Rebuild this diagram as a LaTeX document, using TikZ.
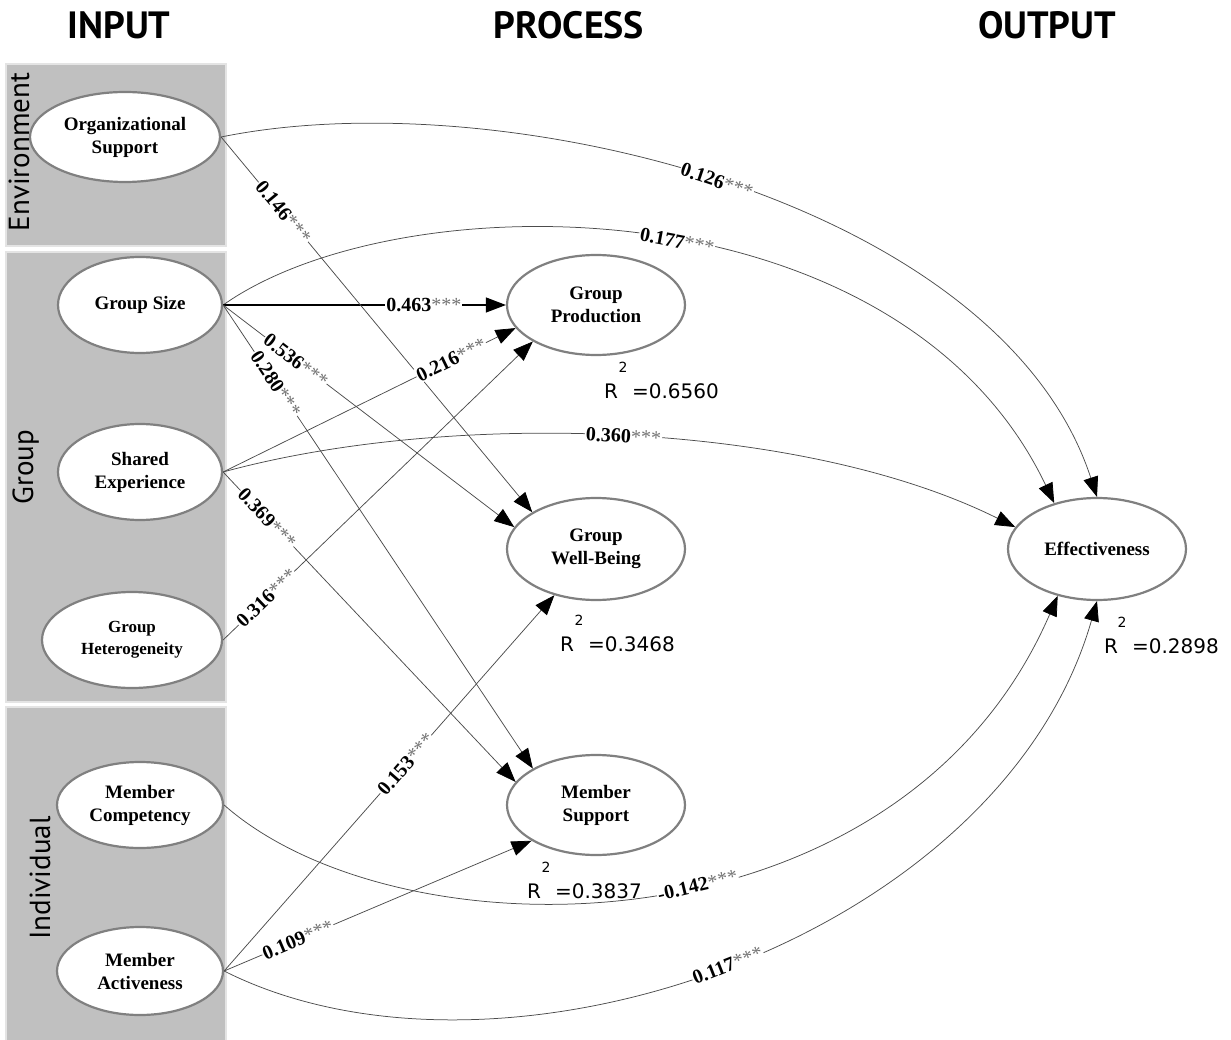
\documentclass[tikz,border=0pt]{standalone}
\usepackage{fontspec}
\setmainfont{Liberation Serif}
\newfontfamily\ptsans{PT Sans}
\newfontfamily\djv{DejaVu Sans}
\usetikzlibrary{arrows.meta,shapes.geometric}
\definecolor{panelgray}{RGB}{192,192,192}
\definecolor{panelborder}{RGB}{228,228,228}
\definecolor{ellgray}{RGB}{128,128,128}
\newcommand\coef[1]{#1\textmd{\color{black!55}***}}
\tikzset{
  panel/.style={fill=panelgray, draw=panelborder, line width=2pt},
  title/.style={font=\ptsans\bfseries\fontsize{38}{38}\selectfont, anchor=base},
  side/.style={font=\ptsans\fontsize{29}{29}\selectfont, rotate=90, anchor=base},
  var/.style={ellipse, draw=ellgray, line width=2.2pt, fill=white, inner sep=0pt,
    align=center, font=\bfseries\fontsize{19}{23}\selectfont},
  conn/.style={draw=black!70, line width=0.75pt, -{Triangle[length=20pt,width=15pt,black]}},
  lbl/.style={fill=white, inner sep=1pt, sloped, font=\bfseries\fontsize{20}{20}\selectfont},
  rtxt/.style={font=\djv\fontsize{20}{20}\selectfont, anchor=base west, inner sep=0pt},
  rsup/.style={font=\djv\fontsize{14}{14}\selectfont, inner sep=0pt},
}
\begin{document}
\begin{tikzpicture}[x=1pt,y=-1pt]
\useasboundingbox (0,0) rectangle (1231,1040);
% titles
\node[title] (tin) at (119,39) {INPUT};
\node[title] (tpr) at (569,39) {PROCESS};
\node[title] (tou) at (1047,39) {OUTPUT};
% panels
\path[panel] (6,64) rectangle (226,246);
\path[panel] (6,252) rectangle (226,702);
\path[panel] (6,707) rectangle (226,1045);
\node[side] (senv) at (29,152) {Environment};
\node[side] (sgrp) at (33,467) {Group};
\node[side] (sind) at (50,878) {Individual};
% variables
\node[var, minimum width=190pt, minimum height=90pt] (os) at (125,137) {Organizational\\Support};
\node[var, minimum width=164pt, minimum height=96pt] (gs) at (140,305) {Group Size};
\node[var, minimum width=164pt, minimum height=96pt] (se) at (140,472) {Shared\\Experience};
\node[var, minimum width=180pt, minimum height=96pt, font=\bfseries\fontsize{17}{22}\selectfont] (gh) at (132,640) {Group\\Heterogeneity};
\node[var, minimum width=166pt, minimum height=86pt] (mc) at (140,805) {Member\\Competency};
\node[var, minimum width=166pt, minimum height=88pt] (ma) at (140,971) {Member\\Activeness};
\node[var, minimum width=178pt, minimum height=100pt] (gp) at (596,305) {Group\\Production};
\node[var, minimum width=178pt, minimum height=102pt] (wb) at (596,549) {Group\\Well-Being};
\node[var, minimum width=178pt, minimum height=100pt] (ms) at (596,805) {Member\\Support};
\node[var, minimum width=178pt, minimum height=102pt] (eff) at (1097,549) {Effectiveness};
% R squared
\node[rtxt] (r1) at (604,398) {R\hspace{14pt}=0.6560};
\node[rsup] (r1s) at (623,367) {2};
\node[rtxt] (r2) at (560,651) {R\hspace{14pt}=0.3468};
\node[rsup] (r2s) at (579,620) {2};
\node[rtxt] (r3) at (527,898) {R\hspace{14pt}=0.3837};
\node[rsup] (r3s) at (546,867) {2};
\node[rtxt] (r4) at (1104,653) {R\hspace{14pt}=0.2898};
\node[rsup] (r4s) at (1122,622) {2};
% curved paths to effectiveness
\draw[conn] (os.east) .. controls (500,80) and (1000,200) .. node[lbl,pos=0.49]{\coef{0.126}} (eff.north);
\draw[conn] (gs.east) .. controls (400,180) and (900,180) .. node[lbl,pos=0.53]{\coef{0.177}} (eff.133);
\draw[conn] (se.east) .. controls (450,410) and (800,420) .. node[lbl,pos=0.5]{\coef{0.360}} (eff.165);
\draw[conn] (mc.east) .. controls (400,960) and (900,960) .. node[lbl,pos=0.55]{\coef{-0.142}} (eff.230);
\draw[conn] (ma.east) .. controls (500,1110) and (1000,940) .. node[lbl,pos=0.5]{\coef{0.117}} (eff.south);
% straight paths
\draw[conn, draw=black, line width=1.1pt] (gs.east) -- node[lbl,pos=0.71]{\coef{0.463}} (gp.west);
\draw[conn] (os.east) -- node[lbl,pos=0.2]{\coef{0.146}} (wb.150);
\draw[conn] (gs.east) -- node[lbl,pos=0.25]{\coef{0.536}} (wb.165);
\draw[conn] (gs.east) -- node[lbl,pos=0.17]{\coef{0.280}} (ms.150);
\draw[conn] (se.east) -- node[lbl,pos=0.78]{\coef{0.216}} (gp.196);
\draw[conn] (gh.east) -- node[lbl,pos=0.14]{\coef{0.316}} (gp.210);
\draw[conn] (se.east) -- node[lbl,pos=0.15]{\coef{0.369}} (ms.164);
\draw[conn] (ma.east) -- node[lbl,pos=0.55]{\coef{0.153}} (wb.228);
\draw[conn] (ma.east) -- node[lbl,pos=0.24]{\coef{0.109}} (ms.209);
\end{tikzpicture}
\end{document}
